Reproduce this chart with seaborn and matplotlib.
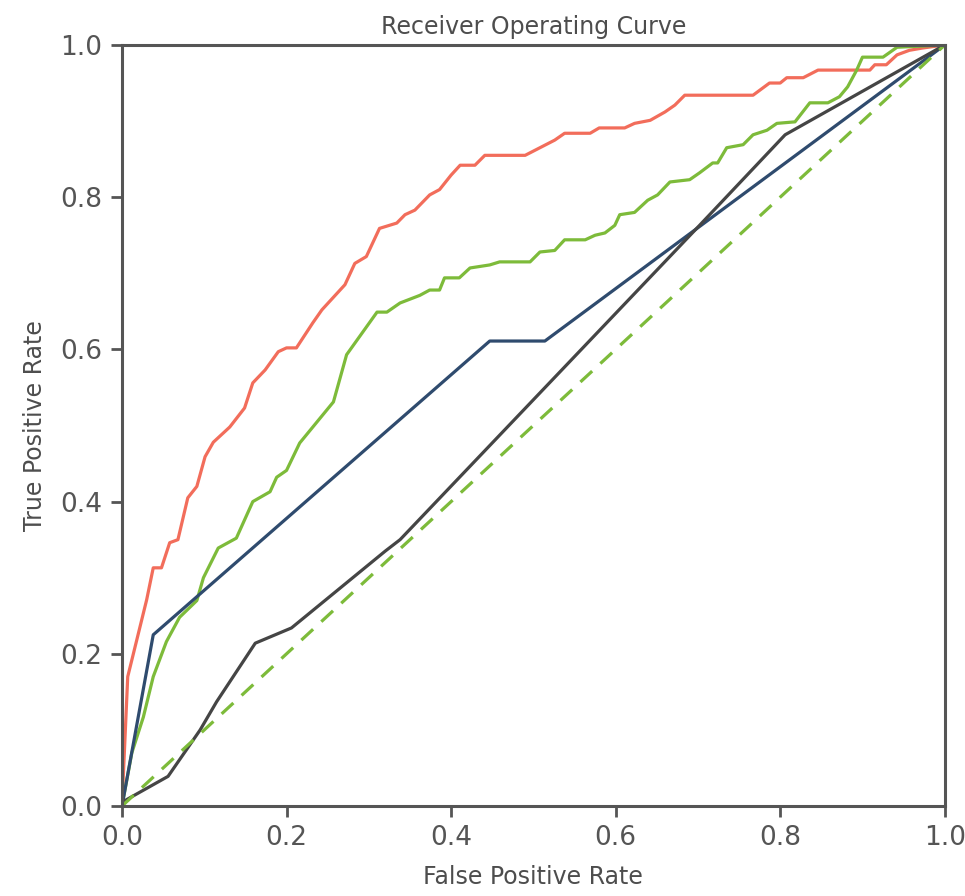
"""
ROC curve recreation (seaborn)
"""

import numpy as np
import pandas as pd
import matplotlib
matplotlib.use("Agg")
import matplotlib.pyplot as plt
import seaborn as sns


# curve points
red_fpr = [0.0, 0.007, 0.030, 0.038, 0.048, 0.058, 0.068, 0.080, 0.091, 0.101,
           0.111, 0.131, 0.149, 0.159, 0.174, 0.190, 0.200, 0.212, 0.232, 0.243,
           0.271, 0.283, 0.297, 0.313, 0.322, 0.334, 0.344, 0.356, 0.374, 0.386,
           0.400, 0.411, 0.429, 0.441, 0.490, 0.508, 0.526, 0.538, 0.569, 0.580,
           0.611, 0.623, 0.642, 0.660, 0.672, 0.684, 0.767, 0.787, 0.800, 0.808,
           0.828, 0.846, 0.909, 0.915, 0.929, 0.942, 0.957, 0.973, 1.0]
red_tpr = [0.0, 0.170, 0.271, 0.313, 0.313, 0.346, 0.350, 0.405, 0.420, 0.459,
           0.478, 0.498, 0.523, 0.556, 0.573, 0.597, 0.602, 0.602, 0.635, 0.652,
           0.685, 0.713, 0.722, 0.759, 0.762, 0.766, 0.777, 0.783, 0.803, 0.810,
           0.829, 0.842, 0.842, 0.855, 0.855, 0.865, 0.875, 0.884, 0.884, 0.891,
           0.891, 0.897, 0.901, 0.912, 0.921, 0.934, 0.934, 0.950, 0.950, 0.957,
           0.957, 0.967, 0.967, 0.974, 0.974, 0.987, 0.993, 0.996, 1.0]

green_fpr = [0.0, 0.012, 0.026, 0.038, 0.054, 0.070, 0.091, 0.099, 0.117, 0.139,
             0.159, 0.180, 0.188, 0.200, 0.216, 0.257, 0.273, 0.310, 0.322, 0.338,
             0.362, 0.374, 0.386, 0.392, 0.410, 0.423, 0.447, 0.459, 0.496, 0.508,
             0.526, 0.538, 0.563, 0.575, 0.587, 0.599, 0.605, 0.623, 0.639, 0.651,
             0.666, 0.690, 0.702, 0.718, 0.724, 0.735, 0.755, 0.767, 0.784, 0.796,
             0.818, 0.836, 0.858, 0.872, 0.882, 0.893, 0.900, 0.925, 0.942, 1.0]
green_tpr = [0.0, 0.070, 0.117, 0.170, 0.216, 0.248, 0.270, 0.300, 0.339, 0.352,
             0.400, 0.413, 0.432, 0.441, 0.477, 0.531, 0.593, 0.649, 0.649, 0.661,
             0.671, 0.678, 0.678, 0.694, 0.694, 0.707, 0.711, 0.715, 0.715, 0.728,
             0.730, 0.744, 0.744, 0.750, 0.753, 0.763, 0.777, 0.780, 0.796, 0.803,
             0.820, 0.823, 0.832, 0.845, 0.845, 0.865, 0.869, 0.882, 0.888, 0.897,
             0.899, 0.924, 0.924, 0.932, 0.945, 0.967, 0.984, 0.984, 0.997, 1.0]

blue_fpr = [0.0, 0.038, 0.447, 0.514, 1.0]
blue_tpr = [0.0, 0.225, 0.611, 0.611, 1.0]

gray_fpr = [0.0, 0.056, 0.095, 0.115, 0.162, 0.206, 0.320, 0.338, 0.702, 0.806, 1.0]
gray_tpr = [0.005, 0.039, 0.100, 0.137, 0.214, 0.234, 0.335, 0.350, 0.763, 0.882, 1.0]

chance = [0.0, 1.0]

models = ["red", "green", "blue", "gray"]
colors = {"red": "#F26D5B", "green": "#7DBB3A", "blue": "#2F4B6E", "gray": "#454545"}

frames = []
for name, fpr, tpr in zip(models,
                          [red_fpr, green_fpr, blue_fpr, gray_fpr],
                          [red_tpr, green_tpr, blue_tpr, gray_tpr]):
    frames.append(pd.DataFrame({"fpr": fpr, "tpr": tpr, "model": name}))
df = pd.concat(frames, ignore_index=True)

sns.set_style("ticks")
plt.rcParams["font.family"] = ["DejaVu Sans"]

fig = plt.figure(figsize=(9.65, 8.96), dpi=100)
ax = fig.add_axes([0.1264, 0.1004, 0.8526, 0.8494])

sns.lineplot(data=df, x="fpr", y="tpr", hue="model", palette=colors,
             sort=False, estimator=None, linewidth=2.3, legend=False, ax=ax)
ax.plot(chance, chance, color="#7DBB3A", linestyle=(0, (5, 3.5)),
        linewidth=2.3)

ax.set_xlim(0, 1)
ax.set_ylim(0, 1)
ax.set_xticks([0.0, 0.2, 0.4, 0.6, 0.8, 1.0])
ax.set_yticks([0.0, 0.2, 0.4, 0.6, 0.8, 1.0])
ax.tick_params(labelsize=19, colors="#555555", length=8, width=2.0, pad=6,
               labelcolor="#555555")
for s in ax.spines.values():
    s.set_color("#555555")
    s.set_linewidth(2.2)

ax.set_xlabel("False Positive Rate", fontsize=17, color="#4d4d4d", labelpad=10)
ax.set_ylabel("True Positive Rate", fontsize=17, color="#4d4d4d", labelpad=10)
ax.set_title("Receiver Operating Curve", fontsize=17, color="#4d4d4d", pad=8)

plt.savefig("out.png", dpi=100)
plt.close()
